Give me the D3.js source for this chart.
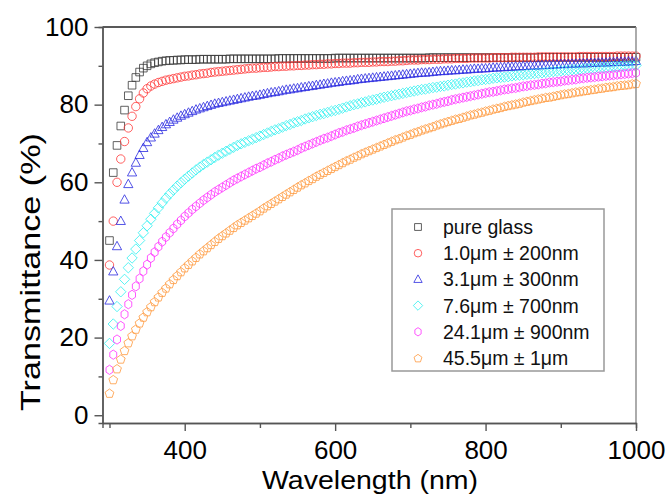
<!DOCTYPE html>
<html><head><meta charset="utf-8">
<script src="https://cdn.jsdelivr.net/npm/d3@7/dist/d3.min.js"></script>
<style>body{margin:0;background:#fff}svg{display:block}text{font-family:"Liberation Sans",Arial,sans-serif}</style>
</head><body>
<svg id="c" width="672" height="495"></svg>
<script>
// wavelength grid (nm), one sample every 5 nm
const wavelengths = d3.range(300, 1001, 5);
const seriesNames = ["pure glass","1.0\u03bcm \u00b1 200nm","3.1\u03bcm \u00b1 300nm","7.6\u03bcm \u00b1 700nm","24.1\u03bcm \u00b1 900nm","45.5\u03bcm \u00b1 1\u03bcm"];
const pureGlass = [45,62.5,69.5,74.5,78.6,82.3,85,87,88.4,89.4,
90,90.5,90.8,91.0,91.2,91.3,91.4,91.4,91.5,91.5,
91.6,91.6,91.6,91.6,91.7,91.7,91.7,91.7,91.7,91.7,
91.7,91.7,91.8,91.8,91.8,91.8,91.8,91.8,91.8,91.8,
91.8,91.8,91.8,91.8,91.8,91.9,91.9,91.9,91.9,91.9,
91.9,91.9,91.9,91.9,91.9,91.9,91.9,91.9,91.9,91.9,
92.0,92.0,92.0,92.0,92.0,92.0,92.0,92.0,92.0,92.0,
92.0,92.0,92.0,92.0,92.0,92.0,92.0,92.0,92.0,92.0,
92.0,92.0,92.0,92.0,92.0,92.1,92.1,92.1,92.1,92.1,
92.1,92.1,92.1,92.1,92.1,92.1,92.1,92.1,92.1,92.1,
92.1,92.1,92.1,92.1,92.1,92.1,92.1,92.1,92.1,92.1,
92.1,92.1,92.1,92.1,92.1,92.2,92.2,92.2,92.2,92.2,
92.2,92.2,92.2,92.2,92.2,92.2,92.2,92.2,92.2,92.2,
92.2,92.2,92.2,92.2,92.2,92.2,92.2,92.2,92.2,92.2,
92.2];
const s1um = [38.7,50,60,66,70.5,74,77,79.5,81.5,83,
84.1,84.8,85.3,85.7,86.0,86.3,86.5,86.7,86.9,87.1,
87.3,87.4,87.6,87.7,87.9,88.0,88.1,88.3,88.4,88.5,
88.6,88.7,88.8,88.9,89.0,89.1,89.2,89.3,89.4,89.4,
89.5,89.6,89.6,89.7,89.8,89.8,89.9,89.9,90.0,90.0,
90.1,90.1,90.2,90.2,90.3,90.3,90.4,90.4,90.5,90.5,
90.6,90.6,90.7,90.7,90.7,90.8,90.8,90.9,90.9,90.9,
91.0,91.0,91.1,91.1,91.1,91.2,91.2,91.3,91.3,91.4,
91.5,91.5,91.5,91.6,91.6,91.6,91.7,91.7,91.7,91.8,
91.8,91.8,91.9,91.9,91.9,91.9,92.0,92.0,92.0,92.0,
92.0,92.0,92.1,92.1,92.1,92.1,92.1,92.2,92.2,92.2,
92.2,92.2,92.2,92.2,92.3,92.3,92.3,92.3,92.3,92.3,
92.3,92.3,92.3,92.3,92.3,92.4,92.4,92.4,92.4,92.4,
92.4,92.4,92.4,92.4,92.4,92.5,92.5,92.5,92.5,92.5,
92.5];
const s3um = [29.5,37,43.5,50,55.5,59.5,62.5,65,67,68.8,
70.3,71.5,72.5,73.4,74.2,74.9,75.5,76.1,76.6,77.1,
77.5,77.9,78.3,78.7,79.0,79.3,79.6,79.9,80.2,80.4,
80.6,80.8,81.0,81.2,81.4,81.6,81.8,82.0,82.2,82.3,
82.5,82.7,82.9,83.1,83.2,83.4,83.6,83.8,83.9,84.1,
84.2,84.4,84.5,84.7,84.8,85.0,85.1,85.3,85.4,85.6,
85.7,85.8,86.0,86.1,86.2,86.3,86.5,86.6,86.7,86.8,
86.9,87.0,87.1,87.2,87.3,87.4,87.5,87.6,87.7,87.8,
87.9,88.0,88.1,88.2,88.2,88.3,88.4,88.5,88.6,88.6,
88.7,88.8,88.8,88.9,89.0,89.0,89.1,89.2,89.2,89.3,
89.3,89.4,89.5,89.5,89.6,89.6,89.7,89.7,89.8,89.8,
89.9,89.9,90.0,90.0,90.1,90.1,90.2,90.2,90.3,90.3,
90.4,90.4,90.4,90.5,90.5,90.6,90.6,90.6,90.7,90.7,
90.8,90.8,90.8,90.9,90.9,91.0,91.0,91.0,91.1,91.1,
91.2];
const s7um = [18.5,23.5,28,31.8,35,38,40.5,42.8,45,47,
48.8,50.5,52,53.4,54.7,55.9,57,58,59,59.9,
60.8,61.6,62.4,63.2,63.9,64.6,65.2,65.8,66.4,67.0,
67.5,68.0,68.5,69.0,69.5,69.9,70.3,70.7,71.1,71.5,
71.9,72.3,72.7,73.1,73.5,73.8,74.2,74.6,74.9,75.3,
75.6,75.9,76.3,76.6,76.9,77.2,77.5,77.7,78.0,78.3,
78.5,78.8,79.1,79.4,79.7,80.0,80.2,80.5,80.7,81.0,
81.2,81.4,81.7,81.9,82.1,82.3,82.5,82.7,82.9,83.1,
83.3,83.5,83.7,83.9,84.0,84.2,84.4,84.5,84.7,84.8,
85.0,85.2,85.3,85.5,85.6,85.8,85.9,86.1,86.2,86.4,
86.5,86.6,86.8,86.9,87.0,87.1,87.2,87.4,87.5,87.6,
87.7,87.8,87.9,88.0,88.1,88.2,88.3,88.4,88.5,88.6,
88.7,88.8,88.9,89.0,89.0,89.1,89.2,89.3,89.4,89.4,
89.5,89.6,89.6,89.7,89.8,89.8,89.9,90.0,90.0,90.1,
90.1];
const s24um = [11.7,15.6,19.5,23,26,28.6,31,33.2,35.2,37.1,
38.8,40.5,42,43.4,44.7,45.9,47,48.1,49.2,50.2,
51.2,52.1,53.0,53.8,54.6,55.4,56.1,56.8,57.5,58.1,
58.7,59.3,59.9,60.5,61.0,61.5,62.0,62.5,63.0,63.5,
63.9,64.4,64.9,65.3,65.8,66.2,66.7,67.1,67.5,67.9,
68.3,68.8,69.2,69.6,70.0,70.4,70.8,71.2,71.5,71.9,
72.3,72.7,73.0,73.4,73.7,74.0,74.4,74.7,75.0,75.3,
75.6,75.9,76.2,76.5,76.8,77.1,77.4,77.7,78.0,78.3,
78.5,78.8,79.0,79.3,79.5,79.8,80.0,80.2,80.5,80.7,
80.9,81.2,81.4,81.6,81.8,82.0,82.2,82.4,82.6,82.8,
83.0,83.2,83.3,83.5,83.7,83.9,84.0,84.2,84.3,84.5,
84.7,84.8,85.0,85.1,85.2,85.4,85.5,85.7,85.8,85.9,
86.0,86.2,86.3,86.4,86.5,86.7,86.8,86.9,87.0,87.1,
87.2,87.3,87.4,87.5,87.6,87.7,87.8,87.9,88.0,88.1,
88.2];
const s45um = [5.7,9.2,12.0,14.5,16.7,18.7,20.5,22.2,23.8,25.3,
26.7,28.0,29.3,30.5,31.7,32.8,33.9,35.0,36.0,37.0,
38.0,38.9,39.8,40.7,41.6,42.4,43.2,44.0,44.8,45.6,
46.3,47.0,47.7,48.4,49.1,49.7,50.3,50.9,51.5,52.1,
52.7,53.4,54.0,54.6,55.2,55.8,56.4,57.0,57.6,58.2,
58.8,59.4,59.9,60.5,61.0,61.6,62.1,62.6,63.1,63.6,
64.1,64.6,65.1,65.6,66.0,66.5,66.9,67.4,67.8,68.2,
68.6,69.0,69.4,69.8,70.2,70.6,71.0,71.3,71.7,72.1,
72.4,72.8,73.1,73.5,73.8,74.1,74.4,74.8,75.1,75.4,
75.7,76.0,76.3,76.5,76.8,77.1,77.4,77.6,77.9,78.1,
78.4,78.6,78.9,79.1,79.3,79.6,79.8,80.0,80.2,80.4,
80.7,80.9,81.1,81.3,81.5,81.7,81.9,82.0,82.2,82.4,
82.6,82.8,82.9,83.1,83.3,83.4,83.6,83.7,83.9,84.0,
84.2,84.3,84.5,84.6,84.7,84.9,85.0,85.1,85.2,85.4,
85.5];
const seriesValues = [pureGlass, s1um, s3um, s7um, s24um, s45um];
const yTicksMajor = [0,20,40,60,80,100];
const yTicksMinor = [10,30,50,70,90];
const xTicksMajor = [400,600,800,1000];
const xTicksMinor = [300,500,700,900];

const colors = ["#3a3a3a","#ff3a3a","#2a2ae0","#30f0f0","#ff30ff","#ff9a40"];
const shapes = ["square","circle","triangle","diamond","hexagon","pentagon"];
const markerR = [3.8,4.2,4.2,4.0,4.2,4.2];

function markerPath(shape, r){
  const p = d3.path();
  if(shape==="square"){ p.rect(-r,-r,2*r,2*r); }
  else if(shape==="circle"){ p.arc(0,0,r,0,2*Math.PI); p.closePath(); }
  else if(shape==="triangle"){ p.moveTo(0,-r*1.2); p.lineTo(r*1.1,r*0.8); p.lineTo(-r*1.1,r*0.8); p.closePath(); }
  else if(shape==="diamond"){ const d=r*1.3; p.moveTo(0,-d); p.lineTo(d,0); p.lineTo(0,d); p.lineTo(-d,0); p.closePath(); }
  else if(shape==="hexagon"){ for(let k=0;k<6;k++){ const a=Math.PI/6+k*Math.PI/3; const px=r*0.95*Math.cos(a), py=r*1.1*Math.sin(a); if(k===0)p.moveTo(px,py); else p.lineTo(px,py);} p.closePath(); }
  else if(shape==="pentagon"){ for(let k=0;k<5;k++){ const a=-Math.PI/2+k*2*Math.PI/5; const px=r*1.1*Math.cos(a), py=r*1.1*Math.sin(a)+0.5; if(k===0)p.moveTo(px,py); else p.lineTo(px,py);} p.closePath(); }
  return p.toString();
}

const svg = d3.select("#c");
const x = d3.scaleLinear().domain([290.7,1000]).range([102.5,636]);
const y = d3.scaleLinear().domain([-2,100]).range([423,27]);
const axisColor = "#555";

// series
seriesValues.forEach((vals, si) => {
  const g = svg.append("g");
  const d = markerPath(shapes[si], markerR[si]);
  g.selectAll("path").data(vals.map((v,i)=>({w:wavelengths[i],v})))
    .join("path")
    .attr("d", d)
    .attr("transform", p => `translate(${x(p.w)},${y(p.v)})`)
    .attr("fill","none")
    .attr("stroke", colors[si])
    .attr("stroke-width",0.95)
    .attr("stroke-opacity",0.85);
});

// frame
const [x0,x1] = x.range(), [yb,yt] = y.range();
svg.append("line").attr("x1",x0).attr("x2",x1).attr("y1",yt).attr("y2",yt).attr("stroke","#222").attr("stroke-width",1.4);
svg.append("line").attr("x1",x1).attr("x2",x1).attr("y1",yt).attr("y2",yb).attr("stroke","#888").attr("stroke-width",1.4);

function styleAxis(g){
  g.select(".domain").attr("stroke",axisColor).attr("stroke-width",1.4);
  g.selectAll(".tick line").attr("stroke",axisColor).attr("stroke-width",1.4);
  g.selectAll("text").attr("fill","#000").style("font-size","26px");
}
svg.append("g").attr("transform",`translate(${x0},0)`)
  .call(d3.axisLeft(y).tickValues(yTicksMinor).tickSize(4).tickFormat(""))
  .call(styleAxis);
svg.append("g").attr("transform",`translate(${x0},0)`)
  .call(d3.axisLeft(y).tickValues(yTicksMajor).tickSize(8).tickPadding(6).tickSizeOuter(0).tickFormat(d3.format("d")))
  .call(styleAxis);
svg.append("g").attr("transform",`translate(0,${yb})`)
  .call(d3.axisBottom(x).tickValues(xTicksMinor).tickSize(5).tickFormat(""))
  .call(styleAxis);
svg.append("g").attr("transform",`translate(0,${yb})`)
  .call(d3.axisBottom(x).tickValues(xTicksMajor).tickSize(8).tickPadding(10).tickSizeOuter(0).tickFormat(d3.format("d")))
  .call(styleAxis);

// titles
svg.append("text").attr("x",370).attr("y",489).attr("text-anchor","middle")
  .attr("textLength",216).attr("lengthAdjust","spacingAndGlyphs")
  .style("font-size","26px").attr("fill","#000").text("Wavelength (nm)");
svg.append("text").attr("transform","translate(40,272) rotate(-90)").attr("text-anchor","middle")
  .attr("textLength",278).attr("lengthAdjust","spacingAndGlyphs")
  .style("font-size","27px").attr("fill","#000").text("Transmittance (%)");

// legend
const lg = svg.append("g");
lg.append("rect").attr("x",392).attr("y",209).attr("width",212).attr("height",162)
  .attr("fill","#fff").attr("stroke","#999").attr("stroke-width",1.5);
seriesNames.forEach((name, si) => {
  const cy = 227 + si*26.2;
  lg.append("path").attr("d", markerPath(shapes[si], markerR[si]*0.9))
    .attr("transform",`translate(418,${cy})`).attr("fill","none")
    .attr("stroke",colors[si]).attr("stroke-width",1).attr("stroke-opacity",0.8);
  lg.append("text").attr("x",443).attr("y",cy).attr("dy","0.36em")
    .style("font-size","19.5px").attr("fill","#111").text(name);
});
</script>
</body></html>
